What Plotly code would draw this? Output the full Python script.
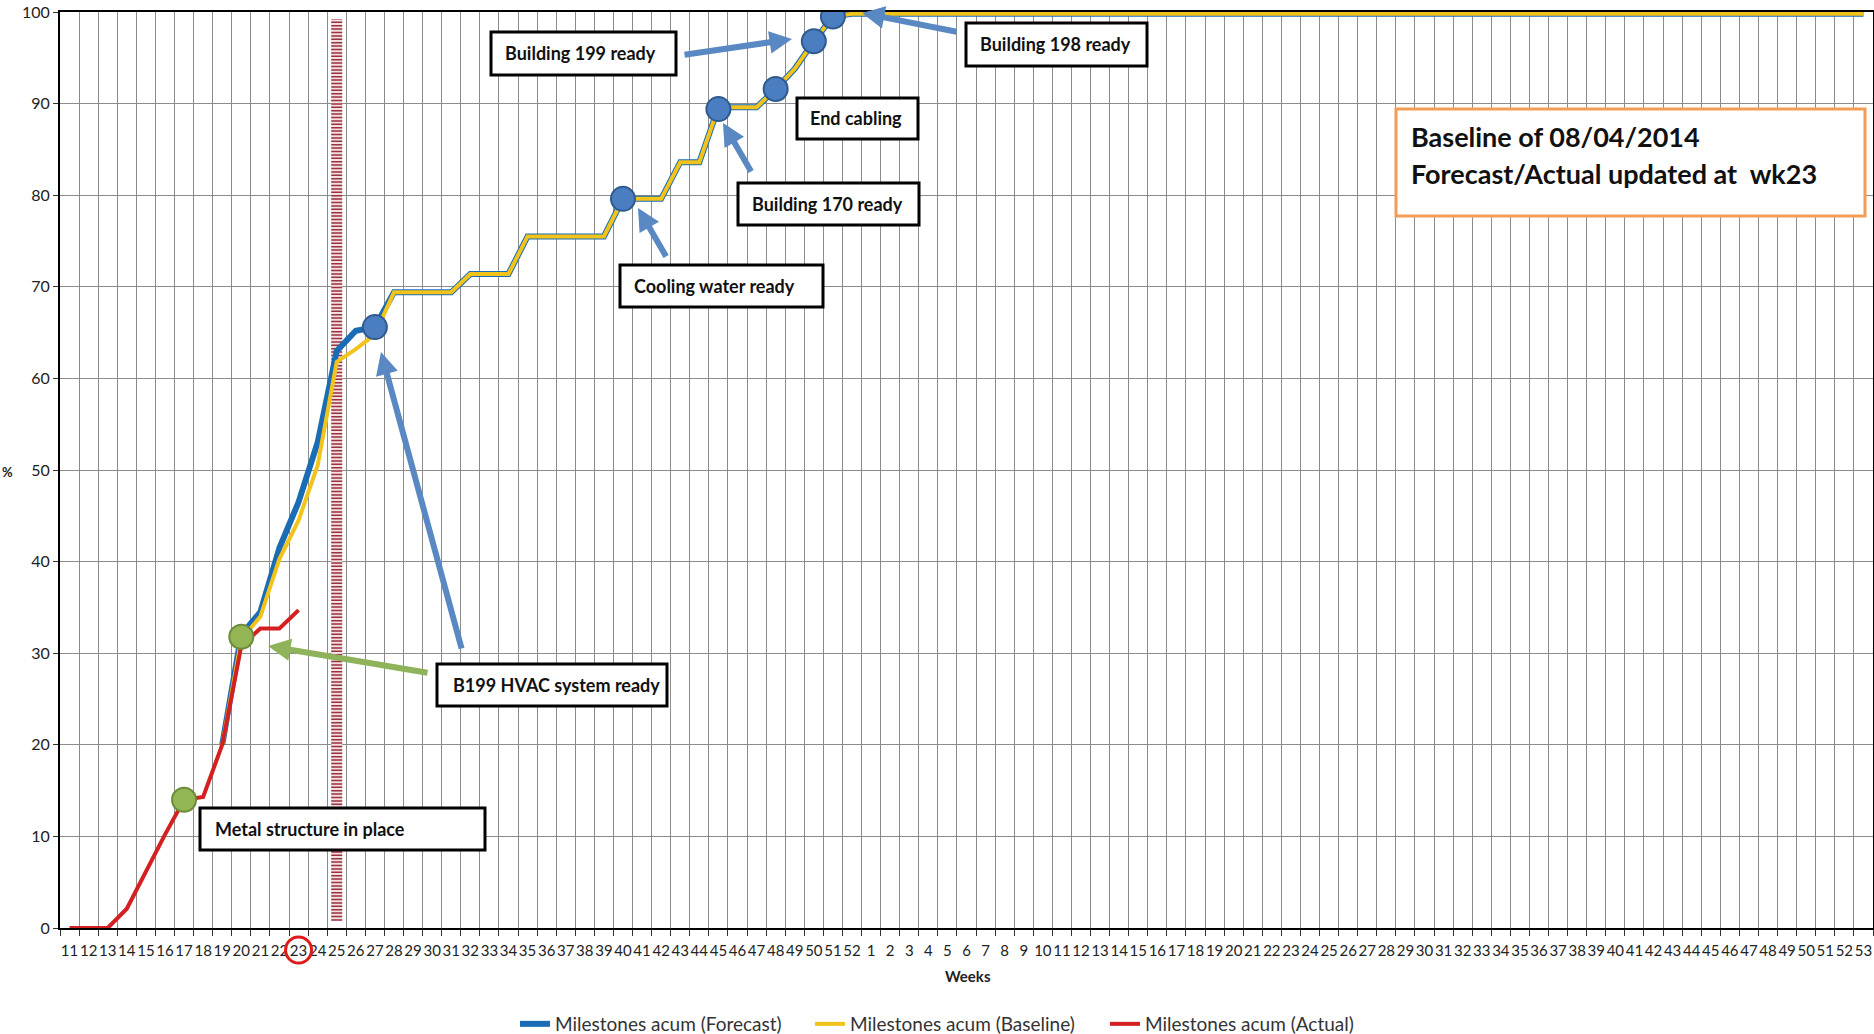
import plotly.graph_objects as go

# ---------------- data ----------------
week_labels = [str(w) for w in range(11, 53)] + [str(w) for w in range(1, 54)]

actual_values = [0, 0, 0, 2.1, 6.2, 10.2, 14.0, 14.3, 20.0, 30.8, 32.7, 32.7, 34.7]  # weeks 11-23
forecast_ramp = [20.0, 32.0, 34.5, 41.5, 46.5, 53.0, 63.0, 65.2, 65.6]              # weeks 19-27
baseline_ramp = [20.0, 31.5, 34.0, 40.3, 44.5, 50.5, 61.8, 63.2, 64.8]              # weeks 19-27
common_tail = [69.4, 69.4, 69.4, 69.4, 71.4, 71.4, 71.4, 75.5, 75.5, 75.5, 75.5, 75.5,
               79.6, 79.6, 79.6, 83.6, 83.6, 89.6, 89.6, 89.6, 91.6, 93.8, 96.8, 99.5, 99.8,
               # next year, weeks 1-53
               99.8, 99.8, 99.8, 99.8, 99.8, 99.8, 99.8, 99.8, 99.8, 99.8, 99.8, 99.8, 99.8,
               99.8, 99.8, 99.8, 99.8, 99.8, 99.8, 99.8, 99.8, 99.8, 99.8, 99.8, 99.8, 99.8,
               99.8, 99.8, 99.8, 99.8, 99.8, 99.8, 99.8, 99.8, 99.8, 99.8, 99.8, 99.8, 99.8,
               99.8, 99.8, 99.8, 99.8, 99.8, 99.8, 99.8, 99.8, 99.8, 99.8, 99.8, 99.8, 99.8,
               99.8]

blue_milestone_weeks = ["27", "40", "45", "48", "50", "51"]
blue_milestone_values = [65.6, 79.6, 89.4, 91.6, 96.8, 99.5]
green_milestone_weeks = ["17", "20"]
green_milestone_values = [14.0, 31.8]

cutoff_week = "25"
status_week = "23"

n = len(week_labels)
x = list(range(n))
lead = week_labels.index("19")
actual = actual_values + [None] * (n - len(actual_values))
forecast = [None] * lead + forecast_ramp + common_tail
baseline = [None] * lead + baseline_ramp + common_tail

# ---------------- layout geometry ----------------
W, H = 1874, 1034
L, R, T, B = 60, 1873, 12, 928
FONT = "Lato, 'Open Sans', Arial, sans-serif"


def P(px, py):
    return (px - L) / (R - L), (B - py) / (B - T)


fig = go.Figure()

fig.add_trace(go.Scatter(x=x, y=forecast, mode="lines", name="Milestones acum (Forecast)",
                         line=dict(color="#1a6db5", width=6)))
fig.add_trace(go.Scatter(x=x, y=baseline, mode="lines", name="Milestones acum (Baseline)",
                         line=dict(color="#f2c31b", width=4)))
fig.add_trace(go.Scatter(x=x, y=actual, mode="lines", name="Milestones acum (Actual)",
                         line=dict(color="#d42020", width=4)))

fig.add_trace(go.Scatter(x=[week_labels.index(w) for w in blue_milestone_weeks], y=blue_milestone_values,
                         mode="markers", showlegend=False,
                         marker=dict(size=24, color="#4a7ec0", line=dict(color="#2f5a8f", width=2))))
fig.add_trace(go.Scatter(x=[week_labels.index(w) for w in green_milestone_weeks], y=green_milestone_values,
                         mode="markers", showlegend=False,
                         marker=dict(size=24, color="#93b553", line=dict(color="#6d8c3a", width=2))))

shapes = []
cx = week_labels.index(cutoff_week)
shapes.append(dict(type="line", xref="x", yref="y", x0=cx, x1=cx, y0=0.8, y1=99.2,
                   line=dict(color="#f3dfe1", width=11), layer="between"))
shapes.append(dict(type="line", xref="x", yref="y", x0=cx, x1=cx, y0=0.8, y1=99.2,
                   line=dict(color="#9a3040", width=11, dash="1.5px,1.9px"), layer="between"))

# label boxes (pixel rectangles -> paper)
boxes = [
    ("Metal structure in place", (200, 808, 485, 850), 213),
    ("B199 HVAC system ready", (437, 664, 667, 706), 451),
    ("Cooling water ready", (620, 265, 823, 307), 632),
    ("Building 170 ready", (738, 183, 919, 225), 750),
    ("End cabling", (797, 98, 918, 139), 808),
    ("Building 199 ready", (491, 32, 676, 75), 503),
    ("Building 198 ready", (966, 23, 1147, 66), 978),
]
annotations = []
for text, (x0, y0, x1, y1), tx in boxes:
    a0, b0 = P(x0, y0)
    a1, b1 = P(x1, y1)
    shapes.append(dict(type="rect", xref="paper", yref="paper", x0=a0, x1=a1, y0=b1, y1=b0,
                       line=dict(color="black", width=3), fillcolor="white", layer="above"))
    tpx, tpy = P(tx, (y0 + y1) / 2)
    annotations.append(dict(text=f"<b>{text}</b>", xref="paper", yref="paper", x=tpx, y=tpy,
                            xanchor="left", yanchor="middle", showarrow=False,
                            font=dict(family=FONT, size=18, color="#111")))

# orange info box
a0, b0 = P(1396, 109)
a1, b1 = P(1865, 216)
shapes.append(dict(type="rect", xref="paper", yref="paper", x0=a0, x1=a1, y0=b1, y1=b0,
                   line=dict(color="#f39c55", width=3), fillcolor="white", layer="above"))
for line_text, cy in [("Baseline of 08/04/2014", 136), ("Forecast/Actual updated at\u00a0 wk23", 173)]:
    tpx, tpy = P(1409, cy)
    annotations.append(dict(text=f"<b>{line_text}</b>", xref="paper", yref="paper", x=tpx, y=tpy,
                            xanchor="left", yanchor="middle", showarrow=False,
                            font=dict(family=FONT, size=27, color="#111")))

# arrows: (tail, tip, colour)
arrows = [
    ((429, 673), (268, 646), "#8fb35a"),
    ((462, 650), (381, 352), "#5a88c2"),
    ((667, 258), (638, 208), "#5a88c2"),
    ((752, 173), (723, 123), "#5a88c2"),
    ((683, 55), (792, 39), "#5a88c2"),
    ((958, 32), (862, 13), "#5a88c2"),
]
for (tx_, ty_), (hx, hy), col in arrows:
    px_, py_ = P(hx, hy)
    annotations.append(dict(text="", xref="paper", yref="paper", x=px_, y=py_,
                            ax=tx_ - hx, ay=ty_ - hy, axref="pixel", ayref="pixel",
                            showarrow=True, arrowhead=2, arrowsize=0.75, arrowwidth=6,
                            arrowcolor=col, standoff=0, startstandoff=0))

# red circle around status week label
sx = week_labels.index(status_week)
cpx = L + (sx + 0.5) * (R - L) / n
c0x, c0y = P(cpx - 13, 937)
c1x, c1y = P(cpx + 13, 963)
shapes.append(dict(type="circle", xref="paper", yref="paper", x0=c0x, x1=c1x, y0=c1y, y1=c0y,
                   line=dict(color="#e01a1a", width=3)))

# axis titles
wx, wy = P(968, 976)
annotations.append(dict(text="<b>Weeks</b>", xref="paper", yref="paper", x=wx, y=wy,
                        xanchor="center", yanchor="middle", showarrow=False,
                        font=dict(family=FONT, size=15, color="#222")))
px_, py_ = P(7, 472)
annotations.append(dict(text="<b>%</b>", xref="paper", yref="paper", x=px_, y=py_,
                        xanchor="center", yanchor="middle", showarrow=False,
                        font=dict(family=FONT, size=13, color="#222")))

lx, ly = P(515, 1024)

fig.update_layout(
    width=W, height=H,
    margin=dict(l=L, r=W - R, t=T, b=H - B, pad=0, autoexpand=False),
    paper_bgcolor="white", plot_bgcolor="white",
    font=dict(family=FONT, size=15, color="#222"),
    shapes=shapes, annotations=annotations,
    legend=dict(orientation="h", x=lx, y=ly, xanchor="left", yanchor="middle",
                font=dict(family=FONT, size=19, color="#333"), itemwidth=30,
                entrywidth=250, entrywidthmode="pixels",
                bgcolor="rgba(0,0,0,0)"),
    xaxis=dict(range=[-0.5, n - 0.5], tickmode="array", tickvals=x, ticktext=week_labels,
               tickangle=0, ticks="", showgrid=False, zeroline=False, automargin=False,
               showline=True, mirror=True, linecolor="black", linewidth=2,
               tickfont=dict(family=FONT, size=15, color="#222"), ticklabelstandoff=8,
               minor=dict(tickmode="linear", tick0=0.5, dtick=1, showgrid=True,
                          gridcolor="#8c8c8c", gridwidth=1, ticks="outside", ticklen=6,
                          tickcolor="#333")),
    yaxis=dict(range=[0, 100], tickmode="linear", tick0=0, dtick=10, ticks="outside", ticklen=5,
               tickcolor="#333", showgrid=True, gridcolor="#8c8c8c", gridwidth=1, zeroline=False,
               showline=True, mirror=True, linecolor="black", linewidth=2, automargin=False,
               tickfont=dict(family=FONT, size=16, color="#222")),
)

fig.write_html("out.html")
